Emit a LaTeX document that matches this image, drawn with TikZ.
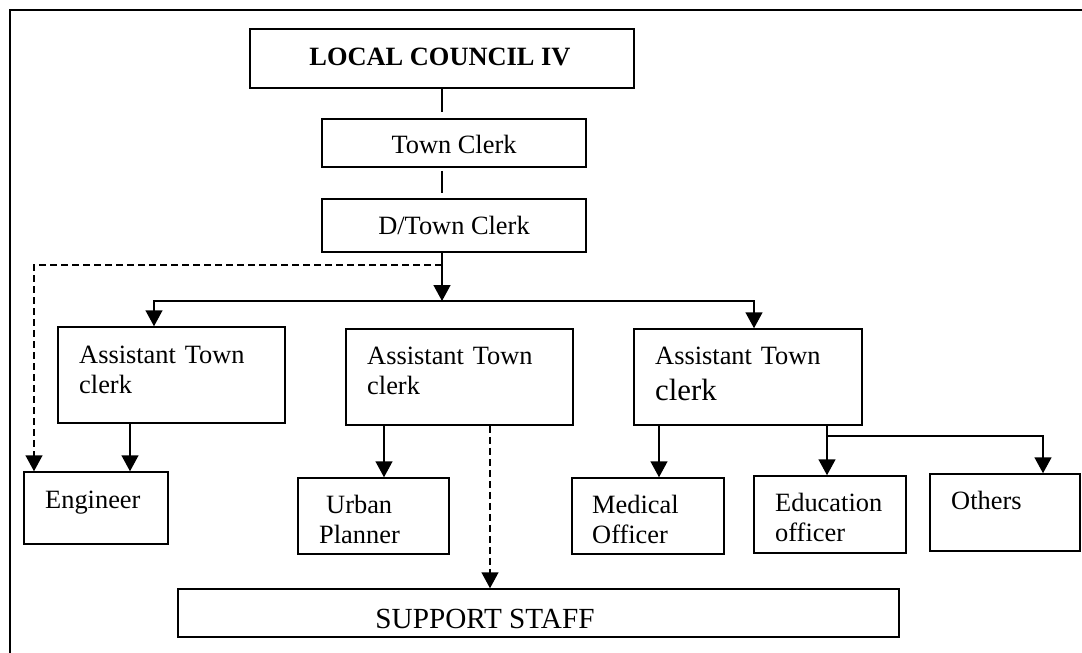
\documentclass[tikz,border=0pt]{standalone}
\usepackage{fontspec}
\setmainfont{Liberation Serif}
\usetikzlibrary{arrows.meta}
\begin{document}
\begin{tikzpicture}[x=1pt,y=-1pt,
  box/.style={draw, line width=1.5pt, inner sep=0pt},
  fnt/.style={font=\fontsize{26.4pt}{30.5pt}\selectfont},
  txt/.style={fnt, inner sep=0pt, anchor=base west, text width=220pt, align=left},
  ctxt/.style={fnt, inner sep=0pt, anchor=base},
  conn/.style={line width=1.5pt},
  tip/.style={-{Triangle[width=17pt,length=16pt]}},
  arr/.style={conn, tip},
  dsh/.style={conn, tip, dash pattern=on 7pt off 4pt}]
\useasboundingbox (0,0) rectangle (1082,653);
% frame
\draw[line width=1.8pt] (10,653) -- (10,10) -- (1082,10);
% boxes
\node[box, minimum width=384pt, minimum height=59pt] (lc)  at (442,58.5) {};
\node[box, minimum width=264pt, minimum height=48pt] (tc)  at (454,143) {};
\node[box, minimum width=264pt, minimum height=53pt] (dtc) at (454,225.5) {};
\node[box, minimum width=227pt, minimum height=96pt] (atc1) at (171.5,375) {};
\node[box, minimum width=227pt, minimum height=96pt] (atc2) at (459.5,377) {};
\node[box, minimum width=228pt, minimum height=96pt] (atc3) at (748,377) {};
\node[box, minimum width=144pt, minimum height=72pt] (eng) at (96,508) {};
\node[box, minimum width=151pt, minimum height=76pt] (urb) at (373.5,516) {};
\node[box, minimum width=152pt, minimum height=76pt] (med) at (648,516) {};
\node[box, minimum width=152pt, minimum height=77pt] (edu) at (830,514.5) {};
\node[box, minimum width=150pt, minimum height=77pt] (oth) at (1005,512.5) {};
\node[box, minimum width=721pt, minimum height=48pt] (sup) at (538.5,613) {};
% texts
\node[ctxt, font=\fontsize{26.4pt}{30.5pt}\selectfont\bfseries] (lct) at (440,65) {LOCAL COUNCIL IV};
\node[ctxt] (tct) at (454,153) {Town Clerk};
\node[ctxt] (dtct) at (454,234) {D/Town Clerk};
\node[txt] (atc1t) at (79,363) {Assistant Town\\clerk};
\node[txt] (atc2t) at (367,364) {Assistant Town\\clerk};
\node[txt] (atc3t) at (655,364) {Assistant Town\\[5.5pt]{\fontsize{30.8pt}{30.5pt}\selectfont clerk}};
\node[txt] (engt) at (45,508) {Engineer};
\node[txt] (urbt) at (319,513) {\hspace*{7pt}Urban\\Planner};
\node[txt] (medt) at (592,513) {Medical\\Officer};
\node[txt] (edut) at (775,511) {Education\\officer};
\node[txt] (otht) at (951,509) {Others};
\node[ctxt, font=\fontsize{29.2pt}{34pt}\selectfont] (supt) at (485,628) {SUPPORT STAFF};
% connectors
\coordinate (v0) at (lc.south);
\draw[conn] (v0) -- ([yshift=6pt]v0 |- tc.north);
\coordinate (v1) at (lc.south |- tc.south);
\draw[conn] ([yshift=-3pt]v1) -- ([yshift=5pt]v1 |- dtc.north);
\coordinate (j) at (442,301);
\coordinate (d0) at (442,265);
\draw[arr] (dtc.south -| j) -- (j);
\coordinate (a1n) at ([xshift=-17.5pt]atc1.north);
\coordinate (a3n) at ([xshift=6pt]atc3.north);
\draw[arr] (j) -| (a1n);
\draw[arr] (j) -| (a3n);
\coordinate (en) at ([xshift=-62pt]eng.north);
\draw[dsh] (d0) -| (en);
\coordinate (a1s) at ([xshift=-41.5pt]atc1.south);
\draw[arr] (a1s) -- (a1s |- eng.north);
\coordinate (a2s) at ([xshift=-75.5pt]atc2.south);
\draw[arr] (a2s) -- (a2s |- urb.north);
\coordinate (a2d) at ([xshift=30.5pt]atc2.south);
\draw[dsh] (a2d) -- (a2d |- sup.north);
\coordinate (a3m) at ([xshift=-89pt]atc3.south);
\draw[arr] (a3m) -- (a3m |- med.north);
\coordinate (a3e) at ([xshift=79pt]atc3.south);
\draw[arr] (a3e) -- (a3e |- edu.north);
\coordinate (k) at (827,436);
\coordinate (on) at ([xshift=38pt]oth.north);
\draw[arr] (k) -| (on);
\end{tikzpicture}
\end{document}
